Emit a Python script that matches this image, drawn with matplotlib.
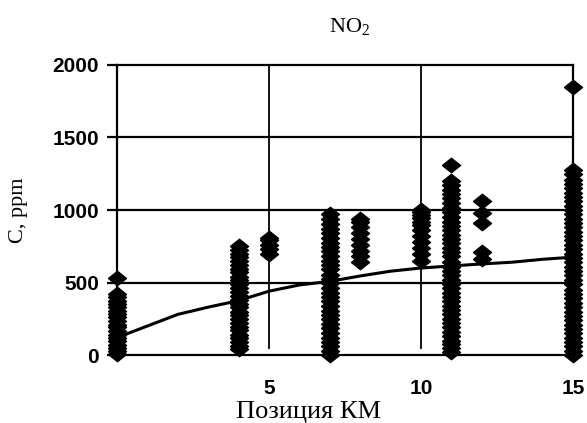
import matplotlib
matplotlib.use("Agg")
import matplotlib.pyplot as plt

# measured NO2 concentration (ppm) at each position (km)
pos_0 = [5, 30, 48, 70, 95, 120, 140, 165, 190, 210, 235, 260, 280, 305, 330, 350, 375, 398, 420, 530]
pos_4 = [40, 65, 90, 115, 140, 170, 195, 220, 250, 275, 300, 330, 355, 380, 410, 435, 460, 490,
         515, 540, 570, 595, 620, 650, 675, 700, 725, 750]
pos_5 = [700, 730, 760, 790, 810]
pos_7 = [0, 30, 60, 90, 120, 150, 185, 215, 245, 275, 305, 340, 370, 400, 430, 460, 495, 525,
         555, 590, 620, 650, 680, 715, 745, 775, 805, 840, 870, 900, 935, 970]
pos_8 = [640, 680, 720, 760, 800, 840, 880, 915, 940]
pos_10 = [650, 700, 740, 780, 820, 860, 895, 920, 945, 965, 985, 1000]
pos_11 = [20, 45, 75, 100, 130, 160, 190, 220, 250, 280, 310, 340, 370, 400, 430, 460, 490, 520,
          550, 580, 610, 640, 680, 710, 740, 770, 800, 830, 860, 890, 920, 950, 985, 1015,
          1045, 1080, 1110, 1140, 1170, 1200, 1310]
pos_12 = [660, 710, 910, 980, 1060]
pos_15 = [0, 30, 60, 90, 120, 150, 180, 210, 240, 270, 300, 330, 360, 390, 420, 450, 490, 520,
          550, 580, 610, 640, 670, 700, 730, 760, 790, 820, 850, 880, 910, 940, 970, 1000,
          1030, 1060, 1090, 1120, 1150, 1180, 1210, 1245, 1275, 1850]

columns = {0: pos_0, 4: pos_4, 5: pos_5, 7: pos_7, 8: pos_8, 10: pos_10,
           11: pos_11, 12: pos_12, 15: pos_15}

# trend line
trend_x = [0, 1, 2, 3, 4, 5, 6, 7, 8, 9, 10, 11, 12, 13, 14, 15]
trend_y = [120, 200, 280, 330, 375, 440, 483, 508, 545, 578, 600, 614, 628, 640, 660, 675]

serif = "Liberation Serif"
sans = "Liberation Sans"

fig = plt.figure(figsize=(5.87, 4.23), dpi=100)
ax = fig.add_axes([117 / 587, 1 - 355 / 423, 456 / 587, 290 / 423])

diamond = [(-1, 0), (0, 0.8), (1, 0), (0, -0.8), (-1, 0)]

# grid lines
for yv in [500, 1000, 1500]:
    ax.axhline(yv, color="black", lw=1.6, zorder=1)
for xv in [5, 10]:
    ax.axvline(xv, ymin=0.025, ymax=1, color="black", lw=1.3, zorder=1)

for xv, vals in columns.items():
    ax.plot([xv] * len(vals), vals, linestyle="none", marker=diamond,
            markersize=13, color="black", zorder=3, clip_on=False)

ax.plot(trend_x, trend_y, color="black", lw=2.2, zorder=4)

ax.set_xlim(0, 15)
ax.set_ylim(0, 2000)
for s in ax.spines.values():
    s.set_linewidth(1.6)

ax.set_xticks([5, 10, 15])
ax.set_xticklabels(["5", "10", "15"])
ax.set_yticks([0, 500, 1000, 1500, 2000])
ax.tick_params(axis="x", length=0, pad=17)
ax.tick_params(axis="y", direction="out", length=7, width=1.6, pad=6)
for lab in ax.get_xticklabels() + ax.get_yticklabels():
    lab.set_fontfamily(sans)
    lab.set_fontweight("bold")
    lab.set_fontsize(15)

fig.text(350 / 587, 1 - 27 / 423, r"NO$_\mathregular{2}$", family=serif,
         fontsize=16, ha="center", va="center")
fig.text(18 / 587, 1 - 210 / 423, "C, ppm", family=serif, fontsize=16,
         rotation=90, ha="center", va="center")
fig.text(309 / 587, 1 - 418 / 423, "Позиция КМ", family=serif, fontsize=19,
         ha="center", va="baseline")

fig.savefig("out.png", dpi=100)
